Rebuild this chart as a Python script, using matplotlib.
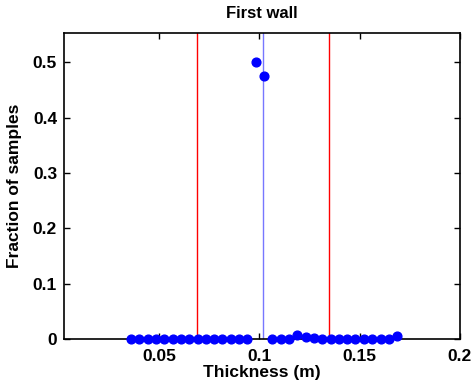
import matplotlib
matplotlib.use("Agg")
import matplotlib.pyplot as plt

# bin centres (m) and fraction of samples in each bin
thickness = [0.0360, 0.0401, 0.0443, 0.0484, 0.0526, 0.0567, 0.0609, 0.0650,
             0.0692, 0.0733, 0.0775, 0.0816, 0.0857, 0.0899, 0.0940, 0.0982,
             0.1023, 0.1065, 0.1106, 0.1148, 0.1189, 0.1230, 0.1272, 0.1313,
             0.1355, 0.1396, 0.1438, 0.1479, 0.1521, 0.1562, 0.1604, 0.1645,
             0.1686]
fraction = [0, 0, 0, 0, 0, 0, 0, 0, 0, 0, 0, 0, 0, 0, 0, 0.501,
            0.476, 0, 0, 0, 0.007, 0.004, 0.002, 0, 0, 0, 0, 0,
            0, 0, 0, 0, 0.006]

bounds = [0.069, 0.1347]   # red limits
nominal = 0.1018           # blue line

xticks = [0.05, 0.1, 0.15, 0.2]
xticklabels = ["0.05", "0.1", "0.15", "0.2"]
yticks = [0, 0.1, 0.2, 0.3, 0.4, 0.5]
yticklabels = ["0", "0.1", "0.2", "0.3", "0.4", "0.5"]

plt.rcParams['font.family'] = ['Liberation Sans', 'DejaVu Sans']
plt.rcParams['font.weight'] = 'bold'

fig = plt.figure(figsize=(4.71, 3.87), dpi=100)
ax = fig.add_axes([64 / 471, 1 - 339 / 387, 396 / 471, 306 / 387])

for b in bounds:
    ax.axvline(b, color='#ff0000', lw=1)
ax.axvline(nominal, color='#7777ff', lw=1)
ax.plot(thickness, fraction, 'o', color='blue', ms=6.3, clip_on=False, zorder=5)

ax.set_xlim(0.0026, 0.2)
ax.set_ylim(0, 0.553)
ax.set_xticks(xticks)
ax.set_xticklabels(xticklabels)
ax.set_yticks(yticks)
ax.set_yticklabels(yticklabels)
ax.tick_params(direction='in', top=True, right=True, labelsize=12.5, width=1, length=4)
ax.tick_params(axis='x', pad=7)
ax.tick_params(axis='y', pad=5)
for s in ax.spines.values():
    s.set_linewidth(1.2)

ax.set_title("First wall", fontsize=12, fontweight='bold', pad=11)
ax.set_xlabel("Thickness (m)", fontsize=12.5, fontweight='bold', labelpad=1)
ax.set_ylabel("Fraction of samples", fontsize=12.5, fontweight='bold', labelpad=8)

fig.savefig("out.png", dpi=100)
